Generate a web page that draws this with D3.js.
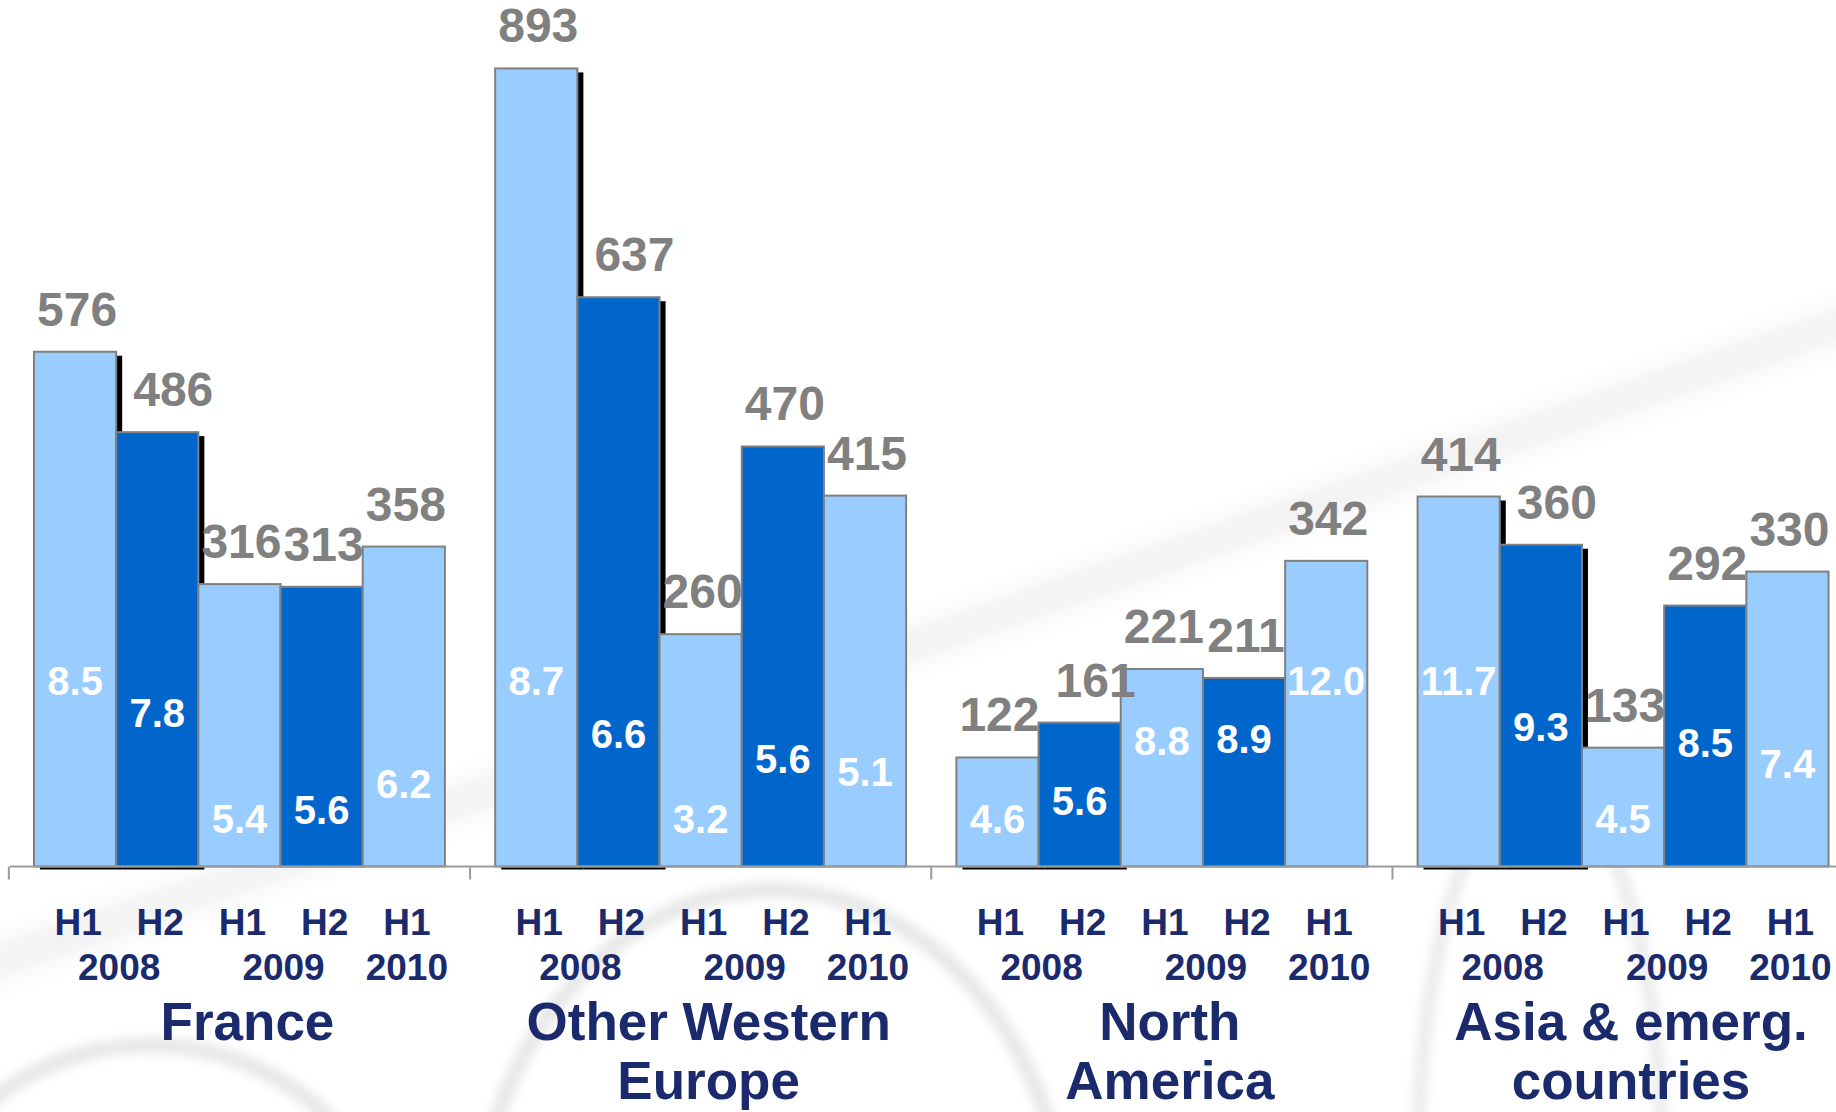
<!DOCTYPE html>
<html>
<head>
<meta charset="utf-8">
<script src="https://cdn.jsdelivr.net/npm/d3@7"></script>
<style>
  html, body { margin: 0; padding: 0; background: #ffffff; }
  svg { display: block; }
  text { font-family: "Liberation Sans", Arial, Helvetica, sans-serif; font-weight: bold; }
</style>
</head>
<body>
<div id="chart"></div>
<script>
// Regions, half-year periods and the two figures shown per bar
const regions = ["France", "Other Western Europe", "North America", "Asia & emerg. countries"];
const regionLines = [["France"], ["Other Western", "Europe"], ["North", "America"], ["Asia & emerg.", "countries"]];
const periods = ["H1", "H2", "H1", "H2", "H1"];
const years = ["2008", "2009", "2010"];
const yearSpans = [[0, 1], [2, 3], [4, 4]];      // period indices each year label sits under
const shadowedPeriods = [0, 1];                   // 2008 bars carry a drop shadow

// Amounts (bar heights)
const salesFrance = [576, 486, 316, 313, 358];
const salesOtherWE = [893, 637, 260, 470, 415];
const salesNorthAm = [122, 161, 221, 211, 342];
const salesAsia = [414, 360, 133, 292, 330];

// Margins (white labels inside the bars)
const marginFrance = [8.5, 7.8, 5.4, 5.6, 6.2];
const marginOtherWE = [8.7, 6.6, 3.2, 5.6, 5.1];
const marginNorthAm = [4.6, 5.6, 8.8, 8.9, 12.0];
const marginAsia = [11.7, 9.3, 4.5, 8.5, 7.4];

const salesByRegion = [salesFrance, salesOtherWE, salesNorthAm, salesAsia];
const marginByRegion = [marginFrance, marginOtherWE, marginNorthAm, marginAsia];

const W = 1836, H = 1112;
const LIGHT = "#99ccff", DARK = "#0066cc", NAVY = "#1a2a6c", GREY = "#808080";

const svg = d3.select("#chart").append("svg").attr("width", W).attr("height", H);

// soft decorative background swooshes
const defs = svg.append("defs");
defs.append("filter").attr("id", "soft").attr("x", "-20%").attr("y", "-20%").attr("width", "140%").attr("height", "140%")
  .append("feGaussianBlur").attr("stdDeviation", 6);
defs.append("filter").attr("id", "softer").attr("x", "-20%").attr("y", "-50%").attr("width", "140%").attr("height", "200%")
  .append("feGaussianBlur").attr("stdDeviation", 12);

const bg = svg.append("g");
bg.append("path").attr("d", "M -40 975 Q 900 650 1880 310")
  .attr("fill", "none").attr("stroke", "#f1f1f1").attr("stroke-width", 34).attr("filter", "url(#softer)");
bg.append("ellipse").attr("cx", 150).attr("cy", 1310).attr("rx", 260).attr("ry", 265)
  .attr("fill", "none").attr("stroke", "#e4e4e4").attr("stroke-width", 14).attr("filter", "url(#soft)");
bg.append("ellipse").attr("cx", 772).attr("cy", 1260).attr("rx", 298).attr("ry", 370)
  .attr("fill", "none").attr("stroke", "#e4e4e4").attr("stroke-width", 14).attr("filter", "url(#soft)");
bg.append("ellipse").attr("cx", 1540).attr("cy", 1160).attr("rx", 122).attr("ry", 380)
  .attr("fill", "none").attr("stroke", "#e8e8e8").attr("stroke-width", 12).attr("filter", "url(#soft)");

// scales
const x0 = d3.scaleBand().domain(regions).range([10, 1852.5]).paddingInner(0.109).paddingOuter(0.052);
const x1 = d3.scaleBand().domain(d3.range(periods.length)).range([0, x0.bandwidth()]).padding(0);
const baseY = 866.5;
const y = d3.scaleLinear().domain([0, 1000]).range([baseY, baseY - 893.7]);

const rows = [];
regions.forEach((r, g) => {
  salesByRegion[g].forEach((v, i) => {
    rows.push({ region: r, g, i, value: v, margin: marginByRegion[g][i] });
  });
});

// margin labels: each region gets its own vertical scale for the margin figures
const marginScales = marginByRegion.map(m => d3.scaleLinear().domain(d3.extent(m)).range([819, 681]));

const gx = d => x0(d.region) + x1(d.i);
const bw = x1.bandwidth();

// drop shadows for the 2008 bars
svg.append("g").selectAll("rect")
  .data(rows.filter(d => shadowedPeriods.includes(d.i)))
  .join("rect")
  .attr("x", d => gx(d) + 6)
  .attr("y", d => y(d.value) + 4)
  .attr("width", bw)
  .attr("height", d => baseY - y(d.value) - 1)
  .attr("fill", "#000");

// bars
svg.append("g").selectAll("rect")
  .data(rows)
  .join("rect")
  .attr("x", gx)
  .attr("y", d => y(d.value))
  .attr("width", bw)
  .attr("height", d => baseY - y(d.value))
  .attr("fill", d => periods[d.i] === "H2" ? DARK : LIGHT)
  .attr("stroke", GREY)
  .attr("stroke-width", 2);

// category axis: baseline plus ticks between regions
const axis = svg.append("g");
axis.append("line").attr("x1", 10).attr("x2", W).attr("y1", baseY).attr("y2", baseY)
  .attr("stroke", "#9a9a9a").attr("stroke-width", 2);
const gap = (x0.step() - x0.bandwidth()) / 2;
axis.selectAll("line.tick").data(regions).join("line").attr("class", "tick")
  .attr("x1", r => x0(r) - gap).attr("x2", r => x0(r) - gap)
  .attr("y1", baseY).attr("y2", baseY + 13)
  .attr("stroke", "#9a9a9a").attr("stroke-width", 2);

// amount labels above the bars (nudged right past the shadow on H2 2008)
svg.append("g").selectAll("text")
  .data(rows)
  .join("text")
  .attr("x", d => gx(d) + bw / 2 + (d.i === 1 ? 16 : 2))
  .attr("y", d => y(d.value) - 26)
  .attr("text-anchor", "middle")
  .attr("font-size", 48)
  .attr("fill", GREY)
  .text(d => d.value);

// margin labels inside the bars
svg.append("g").selectAll("text")
  .data(rows)
  .join("text")
  .attr("x", d => gx(d) + bw / 2)
  .attr("y", d => marginScales[d.g](d.margin))
  .attr("dy", "0.36em")
  .attr("text-anchor", "middle")
  .attr("font-size", 40)
  .attr("fill", "#ffffff")
  .text(d => d.margin.toFixed(1));

// period labels
svg.append("g").selectAll("text")
  .data(rows)
  .join("text")
  .attr("x", d => gx(d) + bw / 2 + 3)
  .attr("y", 935)
  .attr("text-anchor", "middle")
  .attr("font-size", 37)
  .attr("fill", NAVY)
  .text(d => periods[d.i]);

// year labels
const yearRows = [];
regions.forEach(r => years.forEach((yr, k) => yearRows.push({ region: r, year: yr, span: yearSpans[k] })));
svg.append("g").selectAll("text")
  .data(yearRows)
  .join("text")
  .attr("x", d => x0(d.region) + (x1(d.span[0]) + x1(d.span[1])) / 2 + bw / 2 + 3)
  .attr("y", 980)
  .attr("text-anchor", "middle")
  .attr("font-size", 37)
  .attr("fill", NAVY)
  .text(d => d.year);

// region names
const names = svg.append("g");
regions.forEach((r, g) => {
  const cx = x0(r) + x0.bandwidth() / 2 + 8;
  names.append("text")
    .attr("x", cx)
    .attr("y", 1040)
    .attr("text-anchor", "middle")
    .attr("font-size", 53)
    .attr("fill", NAVY)
    .selectAll("tspan")
    .data(regionLines[g])
    .join("tspan")
    .attr("x", cx)
    .attr("dy", (d, k) => k === 0 ? 0 : 59)
    .text(d => d);
});
</script>
</body>
</html>
